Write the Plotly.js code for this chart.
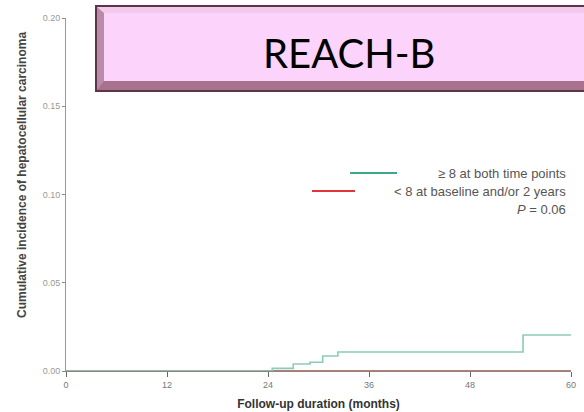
<!DOCTYPE html>
<html>
<head>
<meta charset="utf-8">
<script src="https://cdn.plot.ly/plotly-3.0.1.min.js"></script>
<style>html,body{margin:0;padding:0;background:#fff;}#chart{width:584px;height:412px;}</style>
</head>
<body>
<div id="chart"></div>
<script>
// ---- data ----
const greenMonths = [0, 24.5, 27, 29, 30.5, 32.3, 54.3, 60];
const greenIncidence = [0, 0.0015, 0.004, 0.005, 0.0085, 0.0108, 0.0204, 0.0204];
const redMonths = [0, 60];
const redIncidence = [0, 0];
const xTicks = [0, 12, 24, 36, 48, 60];
const yTicks = [0, 0.05, 0.10, 0.15, 0.20];
const yTickLabels = ["0.00", "0.05", "0.10", "0.15", "0.20"];
const seriesNames = ["\u2265 8 at both time points", "< 8 at baseline and/or 2 years"];
const pText = "<i>P</i> = 0.06";
const panelTitle = "REACH-B";
const xTitle = "Follow-up duration (months)";
const yTitle = "Cumulative incidence of hepatocellular carcinoma";

// ---- layout helpers (pixel -> paper) ----
const W = 584, H = 412, L = 66, R = 13, T = 18, B = 41;
const PW = W - L - R, PH = H - T - B;
const px = x => (x - L) / PW;
const py = y => (H - B - y) / PH;
const poly = pts => 'M ' + pts.map(p => px(p[0]) + ',' + py(p[1])).join(' L ') + ' Z';

const traces = [
  {x: redMonths, y: redIncidence, mode: 'lines', line: {shape: 'hv', color: '#bf7a6c', width: 1.8}, name: seriesNames[1], showlegend: false, cliponaxis: false},
  {x: greenMonths, y: greenIncidence, mode: 'lines', line: {shape: 'hv', color: '#8ccbb5', width: 1.6}, name: seriesNames[0], showlegend: false, cliponaxis: false}
];

const shapes = [
  // title box with bevel
  {type: 'path', xref: 'paper', yref: 'paper', path: poly([[96,6],[600,6],[600,91],[96,91]]), fillcolor: '#b98aa9', line: {color: '#5f3446', width: 2}, layer: 'above'},
  {type: 'path', xref: 'paper', yref: 'paper', path: poly([[97,7],[600,7],[600,13],[104,13]]), fillcolor: '#f2cbec', line: {width: 0}, layer: 'above'},
  {type: 'path', xref: 'paper', yref: 'paper', path: poly([[97,90],[104,81],[600,81],[600,90]]), fillcolor: '#a8728f', line: {width: 0}, layer: 'above'},
  {type: 'rect', xref: 'paper', yref: 'paper', x0: px(104), x1: px(600), y0: py(81), y1: py(13), fillcolor: '#fbd3fb', line: {width: 0}, layer: 'above'},
  // legend samples
  {type: 'line', xref: 'paper', yref: 'paper', x0: px(350), x1: px(397), y0: py(173), y1: py(173), line: {color: '#3fa88a', width: 2}},
  {type: 'line', xref: 'paper', yref: 'paper', x0: px(312), x1: px(355), y0: py(191), y1: py(191), line: {color: '#e0343e', width: 2}}
];

const legFont = {family: 'Liberation Sans, Arial, sans-serif', size: 13, color: '#555'};
const annotations = [
  {xref: 'paper', yref: 'paper', x: px(349), y: py(53), text: panelTitle, showarrow: false, xanchor: 'center', yanchor: 'middle', font: {family: 'Lato, sans-serif', size: 40, color: '#000'}},
  {xref: 'paper', yref: 'paper', x: px(568), y: py(173), text: seriesNames[0], showarrow: false, xanchor: 'right', yanchor: 'middle', font: legFont},
  {xref: 'paper', yref: 'paper', x: px(568), y: py(191), text: seriesNames[1], showarrow: false, xanchor: 'right', yanchor: 'middle', font: legFont},
  {xref: 'paper', yref: 'paper', x: px(568), y: py(209), text: pText, showarrow: false, xanchor: 'right', yanchor: 'middle', font: legFont},
  {xref: 'paper', yref: 'paper', x: px(22), y: py(175), text: '<b>' + yTitle + '</b>', textangle: -90, showarrow: false, xanchor: 'center', yanchor: 'middle', font: {family: 'Liberation Sans, Arial, sans-serif', size: 12, color: '#444'}}
];

const layout = {
  width: W, height: H,
  margin: {l: L, r: R, t: T, b: B, pad: 0},
  paper_bgcolor: '#fff', plot_bgcolor: '#fff',
  showlegend: false,
  xaxis: {
    range: [0, 60], tickvals: xTicks, ticktext: xTicks.map(String),
    showgrid: false, zeroline: false, showline: true, linecolor: '#888', linewidth: 1,
    ticks: 'outside', ticklen: 5, tickcolor: '#666', tickwidth: 1,
    tickfont: {family: 'Liberation Sans, Arial, sans-serif', size: 9, color: '#777'},
    title: {text: '<b>' + xTitle + '</b>', standoff: 10, font: {family: 'Liberation Sans, Arial, sans-serif', size: 12, color: '#333'}},
    fixedrange: true
  },
  yaxis: {
    range: [0, 0.20], tickvals: yTicks, ticktext: yTickLabels,
    showgrid: false, zeroline: false, showline: true, linecolor: '#999', linewidth: 1,
    ticks: 'outside', ticklen: 3, tickcolor: '#888', tickwidth: 1,
    tickfont: {family: 'Liberation Sans, Arial, sans-serif', size: 9, color: '#999'},
    fixedrange: true
  },
  shapes: shapes,
  annotations: annotations
};

Plotly.newPlot('chart', traces, layout, {staticPlot: true, displayModeBar: false});
</script>
</body>
</html>
